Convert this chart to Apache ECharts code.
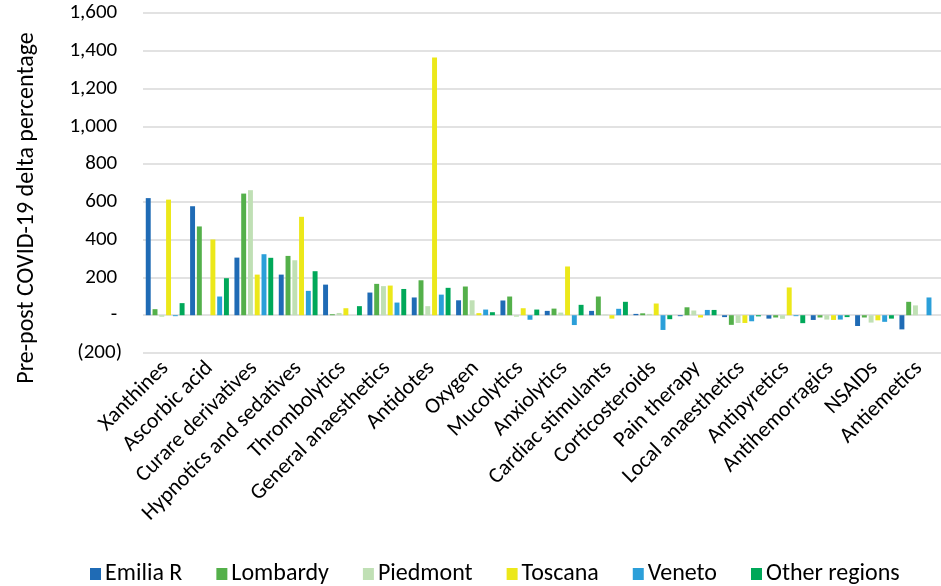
<!DOCTYPE html>
<html>
<head>
<meta charset="utf-8">
<script src="https://cdn.jsdelivr.net/npm/echarts@6/dist/echarts.min.js"></script>
<style>
  html, body { margin: 0; padding: 0; background: #ffffff; }
  #chart { width: 941px; height: 586px; }
</style>
</head>
<body>
<div id="chart"></div>
<script>
// Drug classes on the horizontal axis
const categories = [
  'Xanthines', 'Ascorbic acid', 'Curare derivatives', 'Hypnotics and sedatives',
  'Thrombolytics', 'General anaesthetics', 'Antidotes', 'Oxygen', 'Mucolytics',
  'Anxiolytics', 'Cardiac stimulants', 'Corticosteroids', 'Pain therapy',
  'Local anaesthetics', 'Antipyretics', 'Antihemorragics', 'NSAIDs', 'Antiemetics'
];

// Pre/post COVID-19 delta percentage per region
const emiliaR      = [620, 577, 305, 215, 162, 120,   94,  79,  78,  23,  23,   7,  -5, -10, -18, -25, -57, -75];
const lombardy     = [ 32, 470, 644, 314,   5, 166,  185, 152,  99,  35,  99,  10,  42, -51, -12, -12, -12,  71];
const piedmont     = [ -8,   0, 662, 291,  12, 154,   48,  79,  -8,  14,   3,   7,  25, -41, -19, -23, -39,  52];
const toscana      = [612, 401, 215, 521,  37, 157, 1365,  11,  37, 258, -18,  62, -12, -41, 147, -25, -27,   0];
const veneto       = [ -5,  99, 323, 129,   0,  67,  109,  30, -24, -52,  34, -78,  28, -32,  -5, -23, -35,  94];
const otherRegions = [ 64, 196, 304, 233,  48, 139,  145,  16,  30,  55,  71, -21,  28,  -6, -42, -10, -18,   0];

// Value axis ticks
const yMin = -200;
const yMax = 1600;
const yStep = 200;

const seriesNames = ['Emilia R', 'Lombardy', 'Piedmont', 'Toscana', 'Veneto', 'Other regions'];
const seriesValues = [emiliaR, lombardy, piedmont, toscana, veneto, otherRegions];
const seriesColors = ['#1f6bb5', '#54b04a', '#c0e0b5', '#ece81a', '#2b9fd9', '#00a859'];

const FONT = 'Carlito, Lato, sans-serif';

// Accounting-style tick text: "-" for zero, parentheses for negatives
function tickText(v) {
  if (v === 0) return '- ';
  const s = Math.abs(v).toLocaleString('en-US');
  return v < 0 ? '(' + s + ')' : s + ' ';
}

const chart = echarts.init(document.getElementById('chart'), null, { renderer: 'canvas' });

chart.setOption({
  animation: false,
  backgroundColor: '#ffffff',
  grid: { left: 143, right: -8, top: 13, bottom: 233, containLabel: false },
  legend: {
    data: seriesNames,
    left: 85,
    top: 557,
    itemWidth: 11,
    itemHeight: 12,
    itemGap: 34,
    icon: 'rect',
    textStyle: { fontFamily: FONT, fontSize: 24, color: '#000000', padding: [0, 0, 0, -1] }
  },
  xAxis: {
    type: 'category',
    data: categories,
    axisLine: { show: false },
    axisTick: { show: false },
    axisLabel: {
      interval: 0,
      rotate: 45,
      margin: 12,
      fontFamily: FONT,
      fontSize: 22,
      color: '#000000'
    },
    splitLine: { show: false }
  },
  yAxis: {
    type: 'value',
    min: yMin,
    max: yMax,
    interval: yStep,
    axisLine: { show: false },
    axisTick: { show: false },
    axisLabel: {
      formatter: tickText,
      margin: 21,
      fontFamily: FONT,
      fontSize: 21,
      color: '#000000'
    },
    splitLine: { lineStyle: { color: '#d9d9d9', width: 1.5 } }
  },
  graphic: [{
    type: 'text',
    x: 27,
    y: 208,
    rotation: Math.PI / 2,
    style: {
      text: 'Pre-post COVID-19 delta percentage',
      fontFamily: FONT,
      fontSize: 24,
      fill: '#000000',
      textAlign: 'center',
      textVerticalAlign: 'middle'
    }
  }],
  series: seriesNames.map((name, i) => ({
    name: name,
    type: 'bar',
    data: seriesValues[i],
    barGap: '37%',
    barCategoryGap: '12.5%',
    itemStyle: { color: seriesColors[i] }
  }))
});
</script>
</body>
</html>
